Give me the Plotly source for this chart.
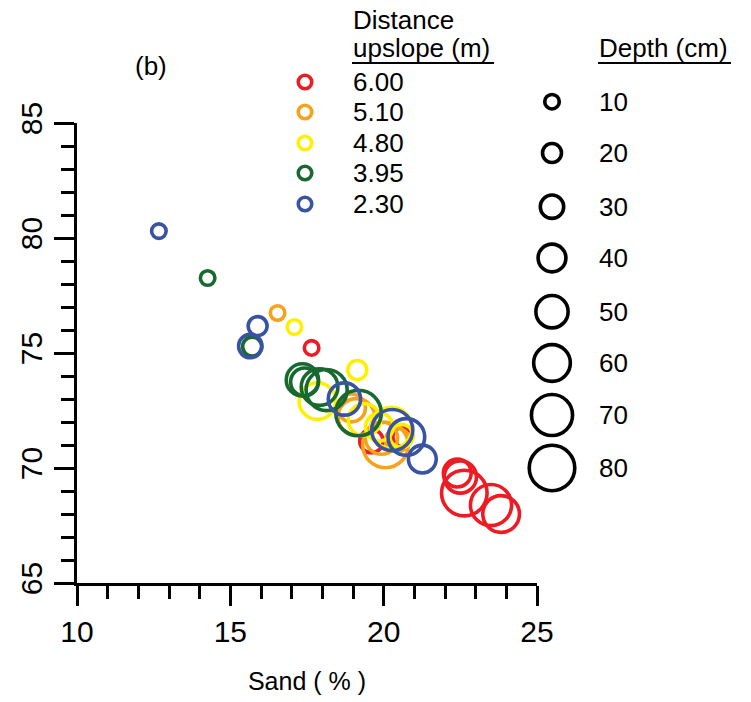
import plotly.graph_objects as go

# ---------------- data ----------------
distance_labels = ["6.00", "5.10", "4.80", "3.95", "2.30"]
series_colors = ["#ED1C24", "#F7A21B", "#FFF000", "#17692F", "#3953A4"]

sand_600 = [17.65, 20.61, 19.60, 22.40, 22.50, 23.83, 23.50, 22.63]
yval_600 = [75.22, 71.35, 71.17, 69.78, 69.61, 68.00, 68.39, 68.91]
depth_600 = [10, 20, 30, 40, 50, 60, 70, 80]

sand_510 = [16.54, 20.45, 18.95, 19.93, 19.11, 20.06]
yval_510 = [76.74, 71.22, 72.61, 71.30, 72.22, 71.00]
depth_510 = [10, 30, 40, 50, 60, 80]

sand_480 = [17.09, 19.14, 20.58, 19.86, 19.37, 17.84, 20.25]
yval_480 = [76.13, 74.26, 71.39, 71.78, 72.09, 72.91, 71.74]
depth_480 = [10, 20, 30, 40, 50, 60, 70]

sand_395 = [14.26, 15.71, 17.42, 17.35, 17.91, 18.14, 19.18]
yval_395 = [78.26, 75.28, 73.74, 73.83, 73.52, 73.39, 72.39]
depth_395 = [10, 20, 40, 50, 60, 70, 80]

sand_230 = [12.67, 15.89, 15.65, 21.26, 18.72, 20.74, 20.28]
yval_230 = [80.30, 76.17, 75.30, 70.39, 73.00, 71.35, 71.65]
depth_230 = [10, 20, 30, 40, 50, 60, 70]

legend_depths = [10, 20, 30, 40, 50, 60, 70, 80]
x_ticks = [10, 15, 20, 25]
y_ticks = [65, 70, 75, 80, 85]

series = [
    (sand_600, yval_600, depth_600),
    (sand_510, yval_510, depth_510),
    (sand_480, yval_480, depth_480),
    (sand_395, yval_395, depth_395),
    (sand_230, yval_230, depth_230),
]

# ---------------- style ----------------
W, H = 751, 702
L, R, T, B = 77, 537, 123, 583
LW = 3.6
FONT = "Arial, Liberation Sans, sans-serif"


def msize(d):
    return 10.1 + 0.443 * d


fig = go.Figure()

for (xs, ys, ds), col in zip(series, series_colors):
    fig.add_trace(go.Scatter(
        x=xs, y=ys, mode="markers", showlegend=False, hoverinfo="skip",
        marker=dict(symbol="circle", size=[msize(d) for d in ds], opacity=1,
                    color="rgba(0,0,0,0)", line=dict(color=col, width=LW)),
    ))

# legend symbols drawn on a full-figure pixel-space axis pair
leg_rows = [82, 112, 143, 173, 204]
fig.add_trace(go.Scatter(
    x=[305] * len(distance_labels), y=leg_rows, xaxis="x2", yaxis="y2",
    mode="markers", showlegend=False, hoverinfo="skip", cliponaxis=False,
    marker=dict(symbol="circle", size=13.5, opacity=1, color="rgba(0,0,0,0)",
                line=dict(color=series_colors, width=LW)),
))
depth_rows = [101.7, 153, 206.7, 258, 311.7, 363, 415, 468]
fig.add_trace(go.Scatter(
    x=[552] * len(legend_depths), y=depth_rows, xaxis="x2", yaxis="y2",
    mode="markers", showlegend=False, hoverinfo="skip", cliponaxis=False,
    marker=dict(symbol="circle", size=[msize(d) for d in legend_depths],
                opacity=1, color="rgba(0,0,0,0)",
                line=dict(color="black", width=LW)),
))

ann = []


def text(xp, yp, s, size=26, xanchor="left"):
    ann.append(dict(x=xp, y=yp, xref="x2", yref="y2", text=s,
                    showarrow=False, xanchor=xanchor, yanchor="middle",
                    font=dict(family=FONT, size=size, color="black")))


text(351, 20, "Distance")
text(351, 47.5, "upslope (m)")
for lab, yy in zip(distance_labels, leg_rows):
    text(351, yy, lab)
text(597, 48, "Depth (cm)")
for d, yy in zip(legend_depths, depth_rows):
    text(597, yy, str(d))
text(133, 66, "(b)", size=26)

shapes = [
    dict(type="line", xref="x2", yref="y2", x0=352, x1=494,
         y0=63, y1=63, line=dict(color="black", width=2)),
    dict(type="line", xref="x2", yref="y2", x0=598, x1=731,
         y0=63, y1=63, line=dict(color="black", width=2)),
]

axis_common = dict(
    showline=True, linecolor="black", linewidth=3, mirror=False,
    ticks="outside", ticklen=20, tickwidth=3, tickcolor="black",
    showgrid=False, zeroline=False, automargin=False,
    tickfont=dict(family=FONT, size=30, color="black"),
    minor=dict(dtick=1, ticks="outside", ticklen=13, tickwidth=3,
               tickcolor="black", showgrid=False),
)

fig.update_layout(
    width=W, height=H, margin=dict(l=0, r=0, t=0, b=0),
    paper_bgcolor="white", plot_bgcolor="rgba(0,0,0,0)",
    showlegend=False,
    xaxis=dict(range=[10, 25], tickvals=x_ticks, domain=[L / W, R / W],
               anchor="y",
               title=dict(text="Sand ( % )", font=dict(family=FONT, size=25,
                                                      color="black"),
                          standoff=26),
               **axis_common),
    yaxis=dict(range=[65, 85], tickvals=y_ticks, tickangle=-90,
               domain=[(H - B) / H, (H - T) / H], anchor="x",
               **axis_common),
    xaxis2=dict(domain=[0, 1], range=[0, W], anchor="y2", visible=False,
                fixedrange=True),
    yaxis2=dict(domain=[0, 1], range=[H, 0], anchor="x2", visible=False,
                fixedrange=True),
    annotations=ann, shapes=shapes,
)

fig.write_html("out.html",
               config={"displayModeBar": False},
               post_script="document.body.style.margin='0';"
                           "document.body.style.overflow='hidden';")
